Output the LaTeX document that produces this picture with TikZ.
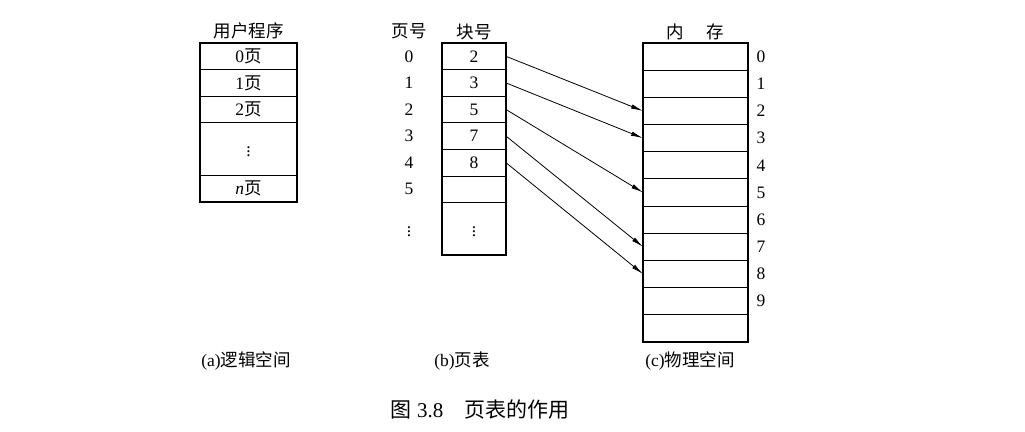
\documentclass[tikz,border=0pt]{standalone}
\usepackage{fontspec}
\setmainfont{Liberation Serif}
\newfontfamily\cjk{Noto Sans CJK SC}
\newcommand\zh[1]{{\cjk #1}}
\usetikzlibrary{arrows.meta, positioning}

\begin{document}
\begin{tikzpicture}[
  x=1pt, y=-1pt, font=\fontsize{17.5}{20}\selectfont,
  cell/.style={draw, line width=0.9pt, inner sep=0pt, outer sep=0pt,
               minimum height=26.6pt},
  lcell/.style={cell, minimum width=97pt},
  tcell/.style={cell, minimum width=64pt},
  mcell/.style={cell, minimum width=105pt, minimum height=27.18pt},
  frame/.style={line width=1.8pt},
  arr/.style={-{Latex[length=12pt,width=4.5pt]}, line width=0.8pt}]
\useasboundingbox (0,0) rectangle (1025,431);
% (a) user program
\node[lcell] (p0) at (248.5,56.3) {0\zh{页}};
\node[lcell, below=0pt of p0] (p1) {1\zh{页}};
\node[lcell, below=0pt of p1] (p2) {2\zh{页}};
\node[lcell, below=0pt of p2, minimum height=52.5pt] (pd) {$\vdots$};
\node[lcell, below=0pt of pd] (pn) {\textit{n}\zh{页}};
\draw[frame] (p0.north west) rectangle (pn.south east);
\node[above=0pt of p0] (prog) {\zh{用户程序}};
% (b) page table
\node[tcell] (t0) at (474,56.3) {2};
\node[tcell, below=0pt of t0] (t1) {3};
\node[tcell, below=0pt of t1] (t2) {5};
\node[tcell, below=0pt of t2] (t3) {7};
\node[tcell, below=0pt of t3] (t4) {8};
\node[tcell, below=0pt of t4] (t5) {};
\node[tcell, below=0pt of t5, minimum height=52.5pt] (t6) {$\vdots$};
\draw[frame] (t0.north west) rectangle (t6.south east);
\node[above=0pt of t0] (blk) {\zh{块号}};
\foreach \i in {0,...,5}
  \node (n\i) at (409,56.3+26.6*\i) {\i};
\node (nd) at (409,229) {$\vdots$};
\node (pg) at (n0 |- blk) {\zh{页号}};
% (c) memory
\foreach \i in {0,...,10}
  \node[mcell] (m\i) at (695.5,56.6+27.18*\i) {};
\draw[frame] (m0.north west) rectangle (m10.south east);
\foreach \i in {0,...,9}
  \node[right=5pt of m\i] (f\i) {\i};
\node[above=0pt of m0] (mem) {\zh{内\hspace{1.3em}存}};
% page -> frame
\foreach \a/\b in {0/2,1/3,2/5,3/7,4/8}
  \draw[arr] (t\a.east) -- (m\b.west);
% captions
\node (capa) at (246,361) {(a)\zh{逻辑空间}};
\node (capb) at (462,361) {(b)\zh{页表}};
\node (capc) at (690,361) {(c)\zh{物理空间}};
\node[font=\fontsize{21}{24}\selectfont] (fig) at (480,410)
  {\zh{图} 3.8\hspace{1em}\zh{页表的作用}};
\end{tikzpicture}
\end{document}
